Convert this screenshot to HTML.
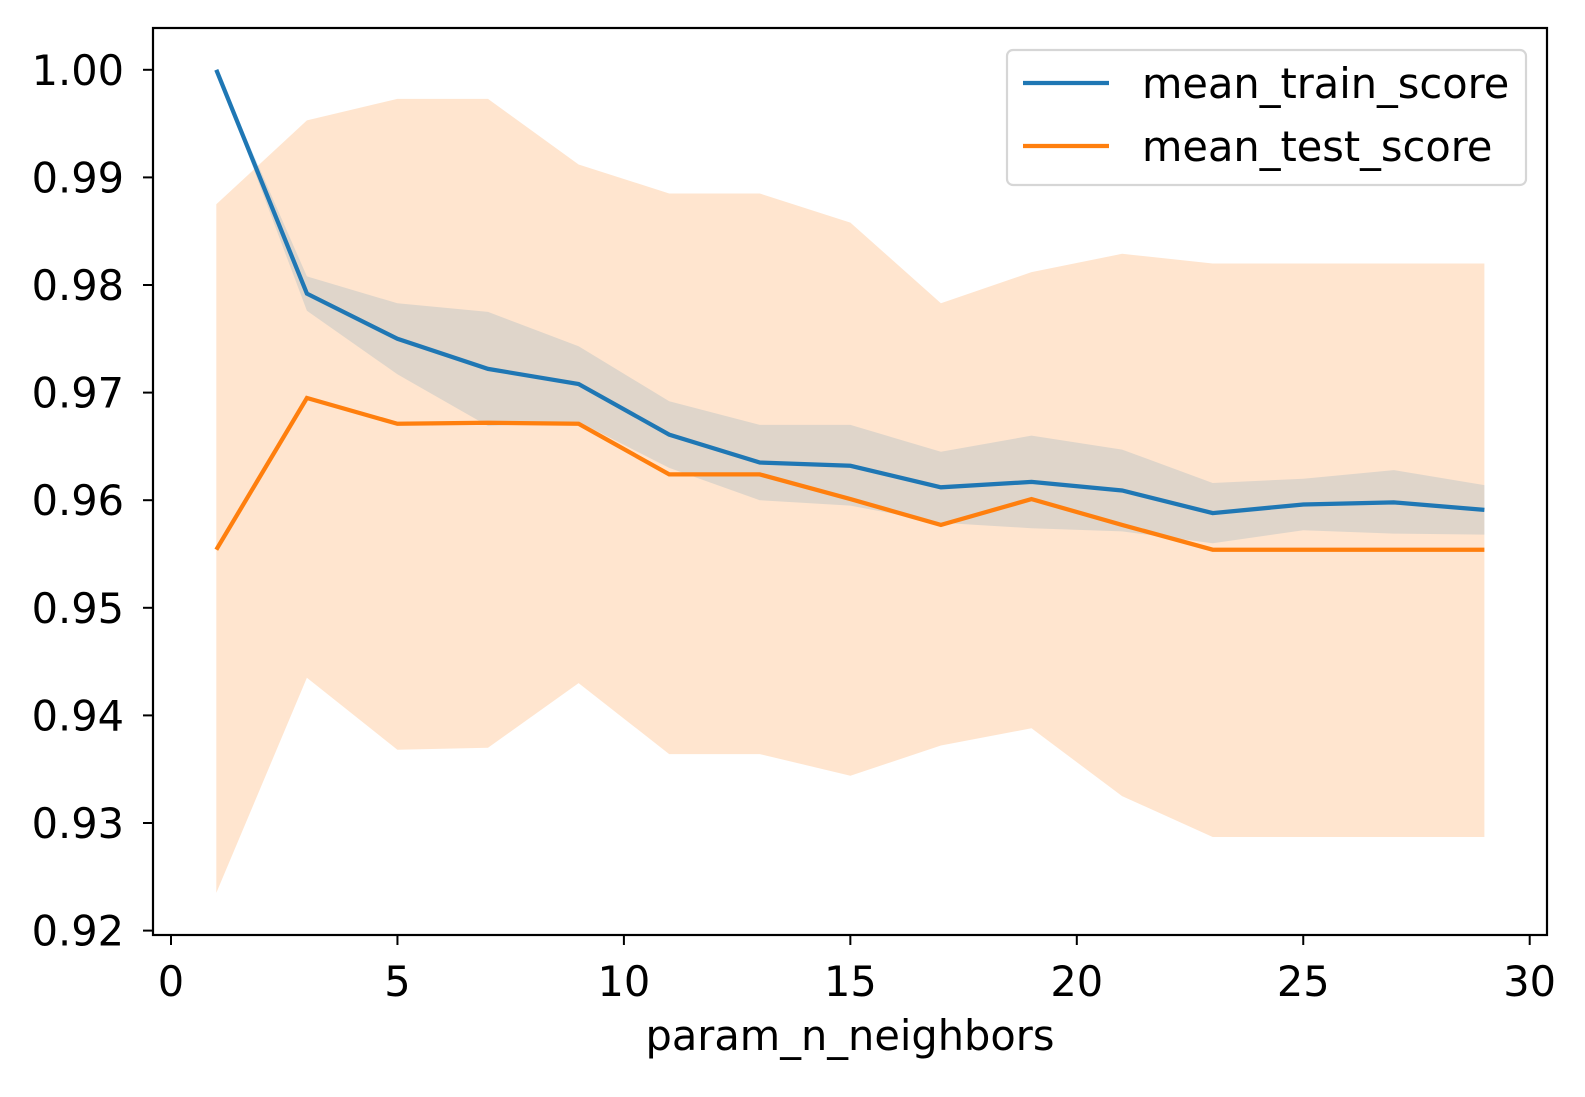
<!DOCTYPE html>
<html><head><meta charset="utf-8"><style>
html,body{margin:0;padding:0;background:#fff;}
svg text{font-family:"DejaVu Sans","Liberation Sans",sans-serif;font-size:41.5px;fill:#000;}
</style></head><body>
<svg width="1585" height="1092" viewBox="0 0 1585 1092" xmlns="http://www.w3.org/2000/svg">
<g id="bands"></g>
<g id="lines"></g>
<g id="axes"></g>
<g id="legend"></g>
</svg>
<script>
const xs = [1,3,5,7,9,11,13,15,17,19,21,23,25,27,29];
const trainMean = [1.0,0.9792,0.9750,0.9722,0.9708,0.9661,0.9635,0.9632,0.9612,0.9617,0.9609,0.9588,0.9596,0.9598,0.9591];
const trainUpper = [1.0,0.9808,0.9783,0.9775,0.9743,0.9692,0.9670,0.9670,0.9645,0.9660,0.9647,0.9616,0.9620,0.9628,0.9614];
const trainLower = [1.0,0.9776,0.9717,0.9669,0.9673,0.9630,0.9600,0.9595,0.9579,0.9574,0.9571,0.9560,0.9572,0.9569,0.9568];
const testMean = [0.9554,0.9695,0.9671,0.9672,0.9671,0.9624,0.9624,0.9601,0.9577,0.9601,0.9577,0.9554,0.9554,0.9554,0.9554];
const testUpper = [0.9875,0.9953,0.9973,0.9973,0.9912,0.9885,0.9885,0.9858,0.9783,0.9812,0.9829,0.9820,0.9820,0.9820,0.9820];
const testLower = [0.9235,0.9435,0.9368,0.9370,0.9430,0.9364,0.9364,0.9344,0.9372,0.9388,0.9325,0.9287,0.9287,0.9287,0.9287];
const xTicks = [0,5,10,15,20,25,30];
const yTicks = [0.92,0.93,0.94,0.95,0.96,0.97,0.98,0.99,1.00];
const yTickLabels = ["0.92","0.93","0.94","0.95","0.96","0.97","0.98","0.99","1.00"];

const NS="http://www.w3.org/2000/svg";
const L=153,R=1547,T=28,B=935;
const X=v=>171+(v-0)*45.29;
const Y=v=>69.8+(1-v)*10760;
function mk(tag,attrs,parent){const e=document.createElementNS(NS,tag);for(const k in attrs)e.setAttribute(k,attrs[k]);parent.appendChild(e);return e;}
function bandPath(up,lo){let d="";xs.forEach((x,i)=>d+=(i?"L":"M")+X(x).toFixed(1)+","+Y(up[i]).toFixed(1));for(let i=xs.length-1;i>=0;i--)d+="L"+X(xs[i]).toFixed(1)+","+Y(lo[i]).toFixed(1);return d+"Z";}
function linePath(v){return xs.map((x,i)=>(i?"L":"M")+X(x).toFixed(1)+","+Y(v[i]).toFixed(1)).join("");}
const bands=document.getElementById('bands'),lines=document.getElementById('lines'),axes=document.getElementById('axes'),leg=document.getElementById('legend');
let e=mk('path',{d:bandPath(testUpper,testLower),fill:'#ff7f0e','fill-opacity':0.2},bands);


e=mk('path',{d:bandPath(trainUpper,trainLower),fill:'#1f77b4','fill-opacity':0.14},bands);


e=mk('path',{d:linePath(trainMean),fill:'none',stroke:'#1f77b4','stroke-width':4.25},lines);


e=mk('path',{d:linePath(testMean),fill:'none',stroke:'#ff7f0e','stroke-width':4.25},lines);


e=mk('rect',{x:L,y:T,width:R-L,height:B-T,fill:'none',stroke:'#000','stroke-width':2.2},axes);


xTicks.forEach(t=>{
  let l=mk('line',{x1:X(t),x2:X(t),y1:B,y2:B+10,stroke:'#000','stroke-width':2},axes);
  
  
  let tx=mk('text',{x:X(t),y:996,'text-anchor':'middle'},axes);tx.textContent=String(t);
  
  
});
yTicks.forEach((t,i)=>{
  let l=mk('line',{x1:L-10,x2:L,y1:Y(t),y2:Y(t),stroke:'#000','stroke-width':2},axes);
  
  
  let tx=mk('text',{x:124,y:Y(t)+15,'text-anchor':'end'},axes);tx.textContent=yTickLabels[i];
  
  
});
e=mk('text',{x:850,y:1050,'text-anchor':'middle','font-size':'42.5'},axes);e.textContent='param_n_neighbors';


e=mk('rect',{x:1007,y:50,width:519,height:135,rx:6,fill:'#fff','fill-opacity':0.8,stroke:'#d6d6d6','stroke-width':2.2},leg);


[['mean_train_score','#1f77b4',83],['mean_test_score','#ff7f0e',146]].forEach(([n,c,y])=>{
  let l=mk('line',{x1:1023,x2:1109,y1:y,y2:y,stroke:c,'stroke-width':4.25},leg);
  
  
  let tx=mk('text',{x:1142,y:y+15},leg);tx.textContent=n;
  
  
});
</script>
</body></html>
